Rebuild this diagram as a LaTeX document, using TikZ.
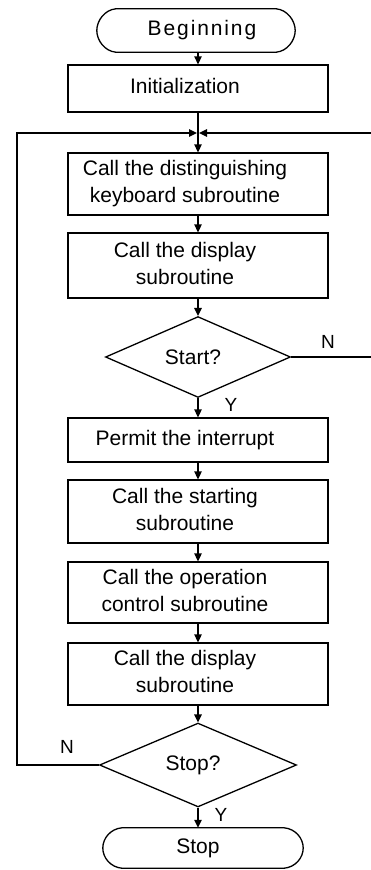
\documentclass[tikz,border=0pt]{standalone}
\usepackage{fontspec}
\setmainfont{Liberation Sans}
\usetikzlibrary{shapes.geometric,arrows.meta}
\newcommand{\bx}[1]{\begin{tabular}{@{}c@{}}#1\end{tabular}\hspace*{26pt}}
\begin{document}
\begin{tikzpicture}[x=1pt,y=-1pt,
  txt/.style={font=\fontsize{21}{27}\selectfont},
  ln/.style={line width=1.3pt},
  box/.style={txt, draw, ln, minimum width=260pt, inner sep=0pt},
  term/.style={txt, minimum width=198pt, minimum height=43pt, inner sep=0pt},
  dec/.style={txt, draw, diamond, ln, inner sep=0pt},
  arr/.style={ln, -{Triangle[length=8pt,width=7.5pt]}},
  lbl/.style={font=\fontsize{19}{22}\selectfont, inner sep=0pt}]
\useasboundingbox (0,0) rectangle (371,870);
\clip (0,0) rectangle (371,870);
\node[term] (begin) at (196,30.5) {\hspace*{12pt}\addfontfeature{LetterSpace=9}Beginning};
\node[box, minimum height=47pt] (init) at (198,88.5) {\bx{Initialization}};
\coordinate (merge) at (198,133);
\node[box, minimum height=62pt] (b1) at (198,184) {\bx{Call the distinguishing\\keyboard subroutine}};
\node[box, minimum height=65pt] (b2) at (198,265.5) {\bx{Call the display\\subroutine}};
\node[dec, minimum width=185pt, minimum height=80pt] (start) at (198,357) {Start?\hspace*{10pt}};
\node[box, minimum height=44pt] (b3) at (198,440) {\bx{Permit the interrupt}};
\node[box, minimum height=63pt] (b4) at (198,511.5) {\bx{Call the starting\\subroutine}};
\node[box, minimum height=61pt] (b5) at (198,592.5) {\bx{Call the operation\\control subroutine}};
\node[box, minimum height=62pt] (b6) at (198,674) {\bx{Call the display\\subroutine}};
\node[dec, minimum width=197pt, minimum height=80pt] (stopq) at (198,765) {Stop?\hspace*{10pt}};
\node[term, minimum width=200pt, minimum height=40pt] (stop) at (203,848) {Stop\hspace*{10pt}};
\foreach \t in {begin,stop}{
  \draw[ln] ([xshift=19pt]\t.north west) -- ([xshift=-19pt]\t.north east)
    .. controls ([xshift=-8pt,yshift=-1pt]\t.north east) and ([yshift=10pt]\t.east) .. (\t.east)
    .. controls ([yshift=-10pt]\t.east) and ([xshift=-8pt,yshift=1pt]\t.south east) .. ([xshift=-19pt]\t.south east)
    -- ([xshift=19pt]\t.south west)
    .. controls ([xshift=8pt,yshift=1pt]\t.south west) and ([yshift=-10pt]\t.west) .. (\t.west)
    .. controls ([yshift=10pt]\t.west) and ([xshift=8pt,yshift=-1pt]\t.north west) .. cycle;
}
\coordinate (lcorner) at (17,765);
\coordinate (rcorner) at (380,357);
\draw[arr] (begin.south -| init) -- (init);
\draw[arr] (init) -- (b1);
\draw[arr] (stopq.west) -- (lcorner) |- ([xshift=-1pt]merge);
\draw[arr] (start.east) -- (rcorner) |- ([xshift=1pt]merge);
\draw[arr] (b1) -- (b2);
\draw[arr] (b2) -- (start);
\draw[arr] (start) -- (b3);
\draw[arr] (b3) -- (b4);
\draw[arr] (b4) -- (b5);
\draw[arr] (b5) -- (b6);
\draw[arr] (b6) -- (stopq);
\draw[arr] (stopq) -- (stopq |- stop.north);
\node[lbl] (n1) at (328,342) {N};
\node[lbl] (y1) at (231,405) {Y};
\node[lbl] (n2) at (67,747) {N};
\node[lbl] (y2) at (221,815) {Y};
\end{tikzpicture}
\end{document}
